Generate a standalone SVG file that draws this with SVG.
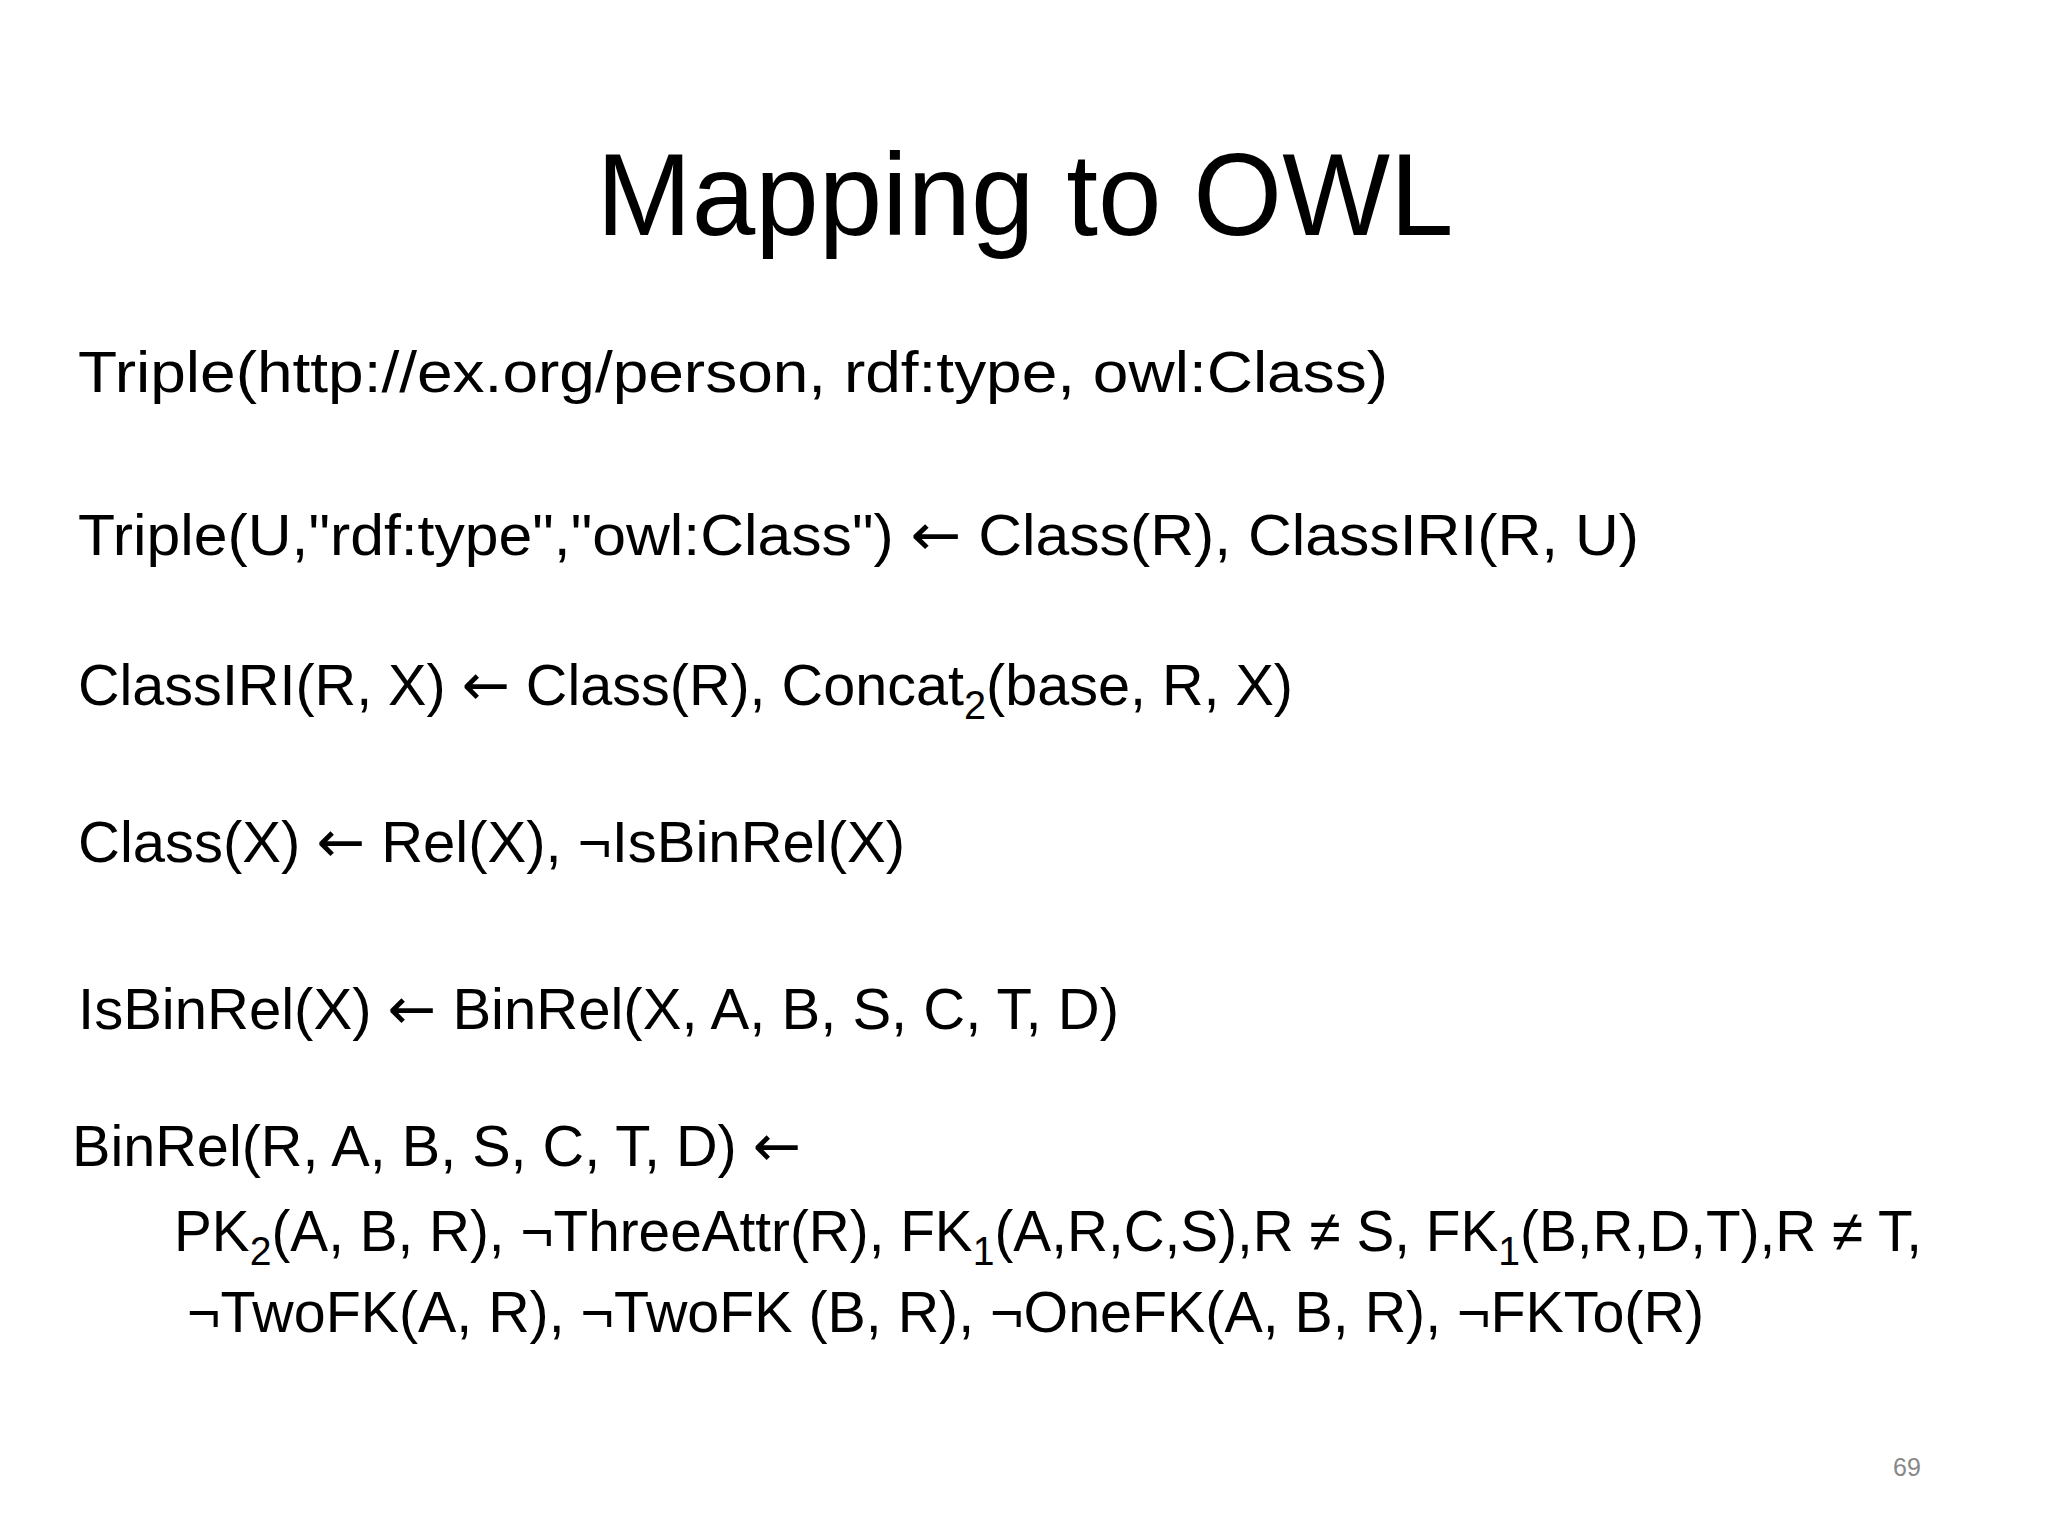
<svg xmlns="http://www.w3.org/2000/svg" width="2048" height="1536" viewBox="0 0 2048 1536">
<style>
.t{font-family:"Liberation Sans","DejaVu Sans",sans-serif;fill:#000;font-size:58px}
.s{font-size:40px}
.a{font-family:"DejaVu Sans",sans-serif}
</style>
<rect width="2048" height="1536" fill="#fff"/>
<text x="1025" y="235" text-anchor="middle" class="t" style="font-size:116px" textLength="857" lengthAdjust="spacingAndGlyphs">Mapping to OWL</text>
<text class="t" x="78" y="392" textLength="1310" lengthAdjust="spacingAndGlyphs">Triple(http://ex.org/person, rdf:type, owl:Class)</text>
<text class="t" x="78" y="555" textLength="1561" lengthAdjust="spacingAndGlyphs">Triple(U,"rdf:type","owl:Class") <tspan class="a">←</tspan> Class(R), ClassIRI(R, U)</text>
<text class="t" x="78" y="705" textLength="1215" lengthAdjust="spacingAndGlyphs">ClassIRI(R, X) <tspan class="a">←</tspan> Class(R), Concat<tspan class="s" dy="14">2</tspan><tspan dy="-14">(base, R, X)</tspan></text>
<text class="t" x="78" y="862" textLength="827" lengthAdjust="spacingAndGlyphs">Class(X) <tspan class="a">←</tspan> Rel(X), ¬IsBinRel(X)</text>
<text class="t" x="78" y="1029" textLength="1041" lengthAdjust="spacingAndGlyphs">IsBinRel(X) <tspan class="a">←</tspan> BinRel(X, A, B, S, C, T, D)</text>
<text class="t" x="72" y="1166" textLength="729" lengthAdjust="spacingAndGlyphs">BinRel(R, A, B, S, C, T, D) <tspan class="a">←</tspan></text>
<text class="t" x="174" y="1251" textLength="1748" lengthAdjust="spacingAndGlyphs">PK<tspan class="s" dy="14">2</tspan><tspan dy="-14">(A, B, R), ¬ThreeAttr(R), FK</tspan><tspan class="s" dy="14">1</tspan><tspan dy="-14">(A,R,C,S),R ≠ S, FK</tspan><tspan class="s" dy="14">1</tspan><tspan dy="-14">(B,R,D,T),R ≠ T,</tspan></text>
<text class="t" x="187" y="1332" textLength="1517" lengthAdjust="spacingAndGlyphs">¬TwoFK(A, R), ¬TwoFK (B, R), ¬OneFK(A, B, R), ¬FKTo(R)</text>
<text x="1907" y="1476" text-anchor="middle" style="font-family:'Liberation Sans',sans-serif;font-size:25px;fill:#888">69</text>
</svg>
